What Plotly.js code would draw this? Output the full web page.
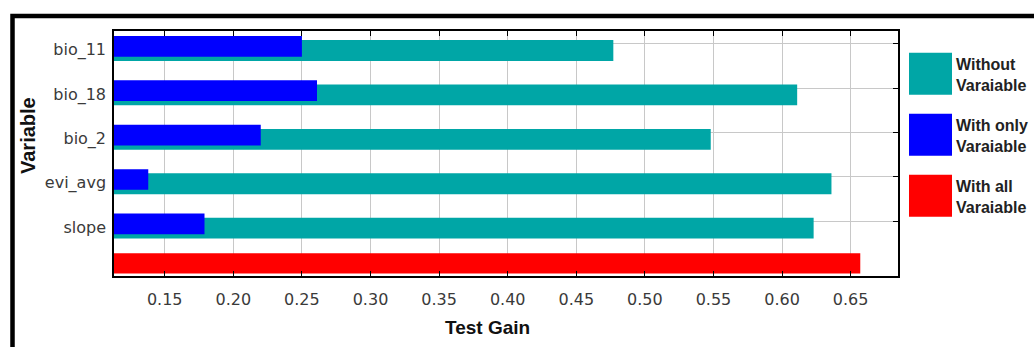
<!DOCTYPE html>
<html>
<head>
<meta charset="utf-8">
<script src="https://cdn.plot.ly/plotly-3.0.1.min.js"></script>
<style>
html,body{margin:0;padding:0;background:#fff;}
#chart{width:1034px;height:347px;}
</style>
</head>
<body>
<div id="chart"></div>
<script>
// ---- data ----
var categories = ["bio_11", "bio_18", "bio_2", "evi_avg", "slope"];
var withoutVariable = [0.477, 0.611, 0.548, 0.636, 0.623];
var withOnlyVariable = [0.250, 0.261, 0.220, 0.138, 0.179];
var withAllVariable = [0.657];
var seriesNames = ["Without Varaiable", "With only Varaiable", "With all Varaiable"];
var seriesColors = ["#00a6a6", "#0000ff", "#ff0000"];
var xTickValues = [0.15, 0.20, 0.25, 0.30, 0.35, 0.40, 0.45, 0.50, 0.55, 0.60, 0.65];

// ---- layout helpers ----
var W = 1034, H = 347;
var M = {l: 114, r: 136, t: 31, b: 71};
var PW = W - M.l - M.r, PH = H - M.t - M.b;
function px(x) { return (x - M.l) / PW; }
function py(y) { return (H - M.b - y) / PH; }

var rowIdx = categories.map(function (c, i) { return i; });
var blueY = rowIdx.map(function (i) { return i + 0.345; });
var tealY = rowIdx.map(function (i) { return i + 0.44; });
var labelY = rowIdx.map(function (i) { return i + 0.42; });
var gridY = rowIdx.map(function (i) { return i + 0.285; });
var allY = [categories.length + 0.234];

var traces = [
  {type: "bar", orientation: "h", name: seriesNames[0], x: withoutVariable, y: tealY,
   width: 0.47, marker: {color: seriesColors[0]}, showlegend: false,
   text: categories, hovertemplate: "%{text}: %{x}<extra>" + seriesNames[0] + "</extra>", textposition: "none"},
  {type: "bar", orientation: "h", name: seriesNames[1], x: withOnlyVariable, y: blueY,
   width: 0.466, marker: {color: seriesColors[1]}, showlegend: false,
   text: categories, hovertemplate: "%{text}: %{x}<extra>" + seriesNames[1] + "</extra>", textposition: "none"},
  {type: "bar", orientation: "h", name: seriesNames[2], x: withAllVariable, y: allY,
   width: 0.455, marker: {color: seriesColors[2]}, showlegend: false,
   hovertemplate: "%{x}<extra>" + seriesNames[2] + "</extra>"}
];

var shapes = [
  // outer frame
  {type: "rect", xref: "paper", yref: "paper",
   x0: px(12.5), x1: px(1060), y0: py(370), y1: py(16),
   line: {color: "#000", width: 4.5}, fillcolor: "rgba(0,0,0,0)", layer: "above"}
];
var annotations = [
  {xref: "paper", yref: "paper", x: px(487), y: py(328), xanchor: "center", yanchor: "middle",
   text: "Test Gain", showarrow: false,
   font: {family: "Liberation Sans, Arial, sans-serif", size: 19, color: "#111", weight: "bold"}},
  {xref: "paper", yref: "paper", x: px(28), y: py(136), xanchor: "center", yanchor: "middle",
   text: "Variable", textangle: -90, showarrow: false,
   font: {family: "Liberation Sans, Arial, sans-serif", size: 20, color: "#111", weight: "bold"}}
];
// custom legend with large swatches
seriesNames.forEach(function (n, i) {
  var top = 52.7 + 61 * i, h = 42;
  shapes.push({type: "rect", xref: "paper", yref: "paper",
    x0: px(909), x1: px(952), y0: py(top + h), y1: py(top),
    fillcolor: seriesColors[i], line: {width: 0}});
  annotations.push({xref: "paper", yref: "paper", x: px(954), y: py(top + h / 2 + 1.5),
    xanchor: "left", yanchor: "middle", align: "left", showarrow: false,
    text: n.replace(" Varaiable", "<br>Varaiable"),
    font: {family: "Liberation Sans, Arial, sans-serif", size: 16, color: "#222", weight: "bold"}});
});

var layout = {
  width: W, height: H,
  margin: M,
  paper_bgcolor: "#fff", plot_bgcolor: "#fff",
  barmode: "overlay",
  showlegend: false,
  xaxis: {
    range: [0.11303, 0.6845],
    tickmode: "array", tickvals: xTickValues,
    tickformat: ".2f",
    ticks: "inside", ticklen: 5, tickcolor: "#000", tickwidth: 1,
    mirror: "ticks", showline: true, linecolor: "#000", linewidth: 1.5,
    showgrid: true, gridcolor: "#c8c8c8", gridwidth: 1,
    zeroline: false,
    tickfont: {family: "DejaVu Sans, sans-serif", size: 16, color: "#3a3a3a"},
    ticklabelstandoff: 8
  },
  yaxis: {
    range: [categories.length + 0.518, 0],
    tickmode: "array", tickvals: labelY, ticktext: categories,
    ticks: "", showgrid: false,
    minor: {tickmode: "array", tickvals: gridY, ticks: "inside", ticklen: 5, tickcolor: "#000",
            showgrid: true, gridcolor: "#c8c8c8", gridwidth: 1},
    mirror: "ticks", showline: true, linecolor: "#000", linewidth: 1.5,
    zeroline: false, layer: "below traces",
    tickfont: {family: "DejaVu Sans, sans-serif", size: 16, color: "#3a3a3a"},
    ticklabelstandoff: 3
  },
  shapes: shapes,
  annotations: annotations
};

Plotly.newPlot("chart", traces, layout, {displayModeBar: false});
</script>
</body>
</html>
